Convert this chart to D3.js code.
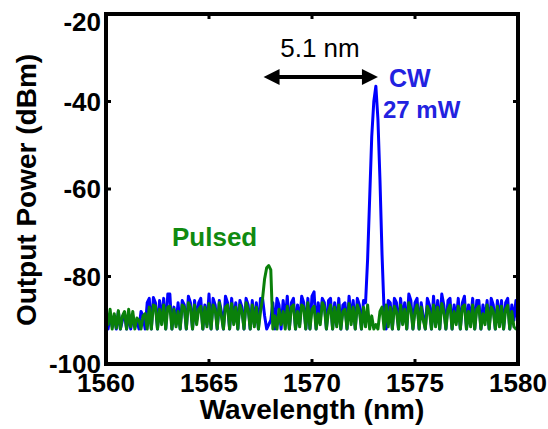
<!DOCTYPE html>
<html>
<head>
<meta charset="utf-8">
<script src="https://cdn.jsdelivr.net/npm/d3@7"></script>
<style>
  html, body { margin: 0; padding: 0; background: #fff; }
  svg { display: block; }
  text { font-family: "Liberation Sans", Arial, sans-serif; }
</style>
</head>
<body>
<svg id="chart" width="548" height="429"></svg>
<script>
// ---- data ----
const xTicks = [1560, 1565, 1570, 1575, 1580];
const yTicks = [-100, -80, -60, -40, -20];
const startWl = 1560, stepWl = 0.1;

// CW (blue) spectrum, one value per 0.1 nm from 1560 to 1580 nm
const cwPower = [
  -89, -92, -88.5, -91.5, -89, -92, -88, -92, -90, -88.5, -92,
  -88.5, -92, -89, -91.5, -90, -92, -88, -89, -92, -86,
  -85, -92, -84.8, -86, -92, -85.5, -90, -85, -92, -84,
  -84, -92, -87, -91, -86, -92, -85.5, -86.5, -92, -84.5,
  -86, -92, -85.5, -90, -86, -85, -92, -86.5, -91, -84,
  -92, -85, -86.5, -92, -85.5, -88, -92, -84.5, -86, -92,
  -85, -90.5, -86, -92, -85.5, -87, -92, -85, -86.5, -92,
  -85.5, -91, -86, -92, -85, -85, -89, -92, -91, -90,
  -86, -92, -85, -86.5, -92, -85.5, -90, -84.5, -92, -86,
  -85, -92, -86.5, -91, -84.5, -86, -92, -85, -92, -84.5,
  -83.5, -92, -86, -90, -85, -86, -92, -85.5, -85, -92,
  -86, -91, -85, -92, -86.5, -86, -92, -84.5, -90, -85.5,
  -92, -85, -86.5, -92, -85.5, -86, -76, -62, -48, -40,
  -36.5, -44, -58, -75, -88, -92, -85.5, -86, -92, -85,
  -86, -92, -85, -90, -86, -92, -84, -85.5, -92, -86,
  -85, -92, -86, -89, -92, -85, -86.5, -92, -84.5, -91,
  -85.5, -92, -84, -86.5, -92, -85.5, -85, -92, -86.5, -90,
  -85, -92, -86, -84.5, -92, -86.5, -90, -85, -92, -85.5,
  -85.5, -92, -86.5, -90, -85.5, -92, -85, -86.5, -92, -85.5,
  -90, -85.5, -92, -86, -85, -92, -86.5, -90, -85.5, -91
];

// Pulsed (green) spectrum, one value per 0.1 nm from 1560 to 1580 nm
const pulsedPower = [
  -88, -91, -87.5, -92, -88.5, -91.8, -87.8, -92, -89, -88, -92,
  -87.5, -91.5, -88, -92, -89.5, -90, -92, -89, -88.5, -92,
  -87, -92, -86.5, -86.8, -92, -87.5, -91, -86.5, -92, -87,
  -86.8, -92, -87.5, -91.5, -88, -92, -86.5, -87, -92, -86,
  -87, -92, -86.5, -91, -87.5, -86.8, -92, -87, -91.5, -86.2,
  -92, -86.5, -87.5, -92, -86, -89, -92, -87, -86.5, -92,
  -86.2, -91, -87, -92, -86.5, -88, -92, -86, -87.5, -92,
  -86.5, -91.5, -87, -92, -88, -85, -80.5, -78, -77.5, -78.5,
  -92, -89, -92, -87.5, -91, -88, -92, -86.8, -92, -87,
  -86.5, -92, -88, -91.5, -86.5, -87, -92, -86, -92, -87.5,
  -86.8, -92, -88.5, -91, -86, -87, -92, -88, -86.5, -92,
  -87, -91.5, -86.5, -92, -88, -87.5, -92, -86.2, -91, -87,
  -92, -86.5, -88, -92, -87, -91.5, -86.5, -92, -89, -92,
  -91, -92, -88, -87, -92, -86.5, -91.5, -87, -92, -86.8,
  -88, -92, -86.5, -91, -87.5, -92, -86, -87.5, -92, -88,
  -86.5, -92, -87, -90, -92, -86.8, -88, -92, -86.5, -91.5,
  -87, -92, -86.2, -88, -92, -87.5, -86.5, -92, -88, -91,
  -86.8, -92, -87, -86.5, -92, -88, -91.5, -86.5, -92, -87.5,
  -86.8, -92, -88.5, -91, -86.5, -92, -87, -88, -92, -86.8,
  -91.5, -86.8, -92, -87.5, -86.6, -92, -88, -91.5, -92, -92
];

const annotations = {
  spacing: "5.1 nm",
  cw: ["CW", "27 mW"],
  pulsed: "Pulsed"
};
const arrowFrom = 1567.65, arrowTo = 1573.2, arrowLevel = -34.4;

(function () {
// ---- layout ----
const svg = d3.select("#chart");
const mL = 106, mR = 518, mT = 14, mB = 364;
const x = d3.scaleLinear().domain([1560, 1580]).range([mL, mR]);
const y = d3.scaleLinear().domain([-100, -20]).range([mB, mT]);

const toPts = arr => arr.map((v, i) => [startWl + i * stepWl, v]);
const line = d3.line().x(d => x(d[0])).y(d => y(d[1]));

const BLUE = "#0000ff", GREEN = "#0a800a";

// traces
svg.append("path").datum(toPts(cwPower))
  .attr("d", line).attr("fill", "none").attr("stroke", BLUE)
  .attr("stroke-width", 3).attr("stroke-linejoin", "round");
svg.append("path").datum(toPts(pulsedPower))
  .attr("d", line).attr("fill", "none").attr("stroke", GREEN)
  .attr("stroke-width", 3).attr("stroke-linejoin", "round");

// frame
svg.append("rect").attr("x", mL).attr("y", mT)
  .attr("width", mR - mL).attr("height", mB - mT)
  .attr("fill", "none").attr("stroke", "#000").attr("stroke-width", 4);

// inner ticks
const tl = 5;
xTicks.slice(1, -1).forEach(t => {
  svg.append("line").attr("x1", x(t)).attr("x2", x(t)).attr("y1", mB).attr("y2", mB - tl).attr("stroke", "#000").attr("stroke-width", 3);
  svg.append("line").attr("x1", x(t)).attr("x2", x(t)).attr("y1", mT).attr("y2", mT + tl).attr("stroke", "#000").attr("stroke-width", 3);
});
yTicks.slice(1, -1).forEach(t => {
  svg.append("line").attr("x1", mL).attr("x2", mL + tl).attr("y1", y(t)).attr("y2", y(t)).attr("stroke", "#000").attr("stroke-width", 3);
  svg.append("line").attr("x1", mR).attr("x2", mR - tl).attr("y1", y(t)).attr("y2", y(t)).attr("stroke", "#000").attr("stroke-width", 3);
});

// tick labels
svg.append("g").selectAll("text").data(xTicks).join("text")
  .attr("x", d => x(d)).attr("y", 392)
  .attr("text-anchor", "middle").attr("font-size", 26).attr("font-weight", "bold")
  .text(d => d);
svg.append("g").selectAll("text").data(yTicks).join("text")
  .attr("x", 101).attr("y", d => Math.max(y(d), 22) + 9)
  .attr("text-anchor", "end").attr("font-size", 26).attr("font-weight", "bold")
  .text(d => d);

// axis titles
svg.append("text").attr("x", 312).attr("y", 419)
  .attr("text-anchor", "middle").attr("font-size", 28).attr("font-weight", "bold")
  .text("Wavelength (nm)");
svg.append("text").attr("transform", "translate(36,190) rotate(-90)")
  .attr("text-anchor", "middle").attr("font-size", 28).attr("font-weight", "bold")
  .text("Output Power (dBm)");

// double arrow
const ay = y(arrowLevel), ax1 = x(arrowFrom), ax2 = x(arrowTo);
svg.append("line").attr("x1", ax1 + 10).attr("x2", ax2 - 10).attr("y1", ay).attr("y2", ay)
  .attr("stroke", "#000").attr("stroke-width", 4);
svg.append("path").attr("d", `M${ax1},${ay} L${ax1 + 16},${ay - 8} L${ax1 + 16},${ay + 8} Z`).attr("fill", "#000");
svg.append("path").attr("d", `M${ax2},${ay} L${ax2 - 16},${ay - 8} L${ax2 - 16},${ay + 8} Z`).attr("fill", "#000");

svg.append("text").attr("x", 320).attr("y", 57).attr("text-anchor", "middle")
  .attr("font-size", 26).text(annotations.spacing);

svg.append("text").attr("x", 389).attr("y", 87).attr("font-size", 25).attr("font-weight", "bold")
  .attr("fill", "#2222e0").text(annotations.cw[0]);
svg.append("text").attr("x", 383).attr("y", 118).attr("font-size", 24).attr("font-weight", "bold")
  .attr("fill", "#2222e0").text(annotations.cw[1]);

svg.append("text").attr("x", 172).attr("y", 246).attr("font-size", 26).attr("font-weight", "bold")
  .attr("fill", "#108a10").text(annotations.pulsed);
})();
</script>
</body>
</html>
